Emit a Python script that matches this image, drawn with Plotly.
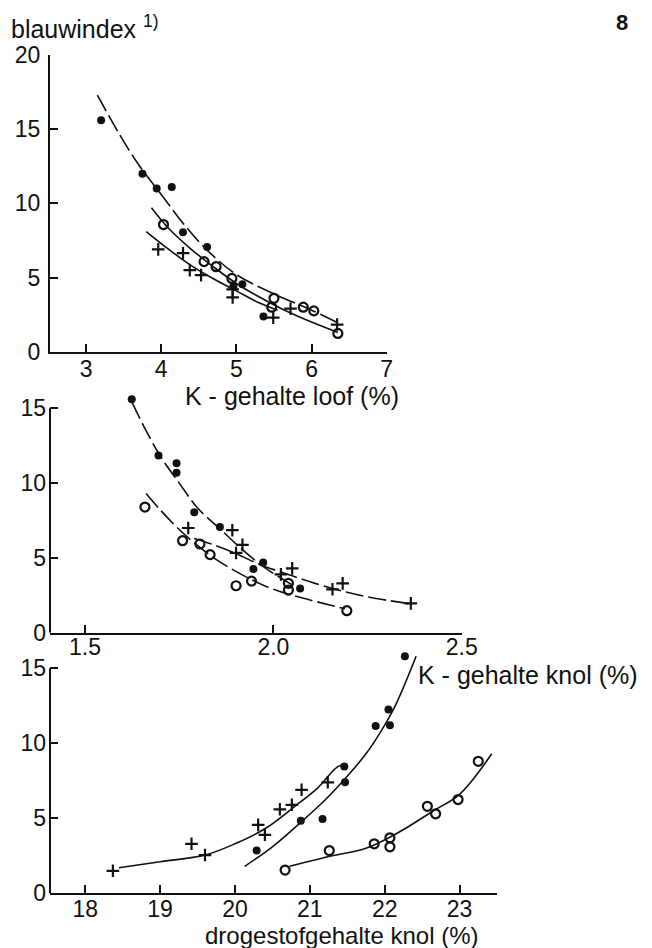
import plotly.graph_objects as go

W, H = 652, 948

# ---------------- Panel 1: K-gehalte loof (%) ----------------
p1_dot_x = [3.20, 3.75, 3.94, 4.14, 4.29, 4.61, 4.96, 5.08, 5.36]
p1_dot_y = [15.6, 12.0, 11.0, 11.1, 8.05, 7.05, 4.4, 4.55, 2.37]
p1_open_x = [4.03, 4.57, 4.73, 4.94, 5.50, 5.47, 5.89, 6.03, 6.35]
p1_open_y = [8.57, 6.07, 5.73, 4.94, 3.6, 3.0, 3.0, 2.75, 1.23]
p1_plus_x = [3.96, 4.29, 4.38, 4.53, 4.95, 4.95, 5.49, 5.72, 6.34]
p1_plus_y = [6.9, 6.64, 5.5, 5.16, 4.2, 3.66, 2.3, 2.9, 1.83]
p1_dot_cx = [3.15, 3.45, 3.70, 4.00, 4.30, 4.60, 5.00, 5.50, 6.00, 6.35]
p1_dot_cy = [17.3, 14.6, 12.6, 10.6, 8.6, 6.9, 5.2, 3.9, 2.8, 1.95]
p1_open_cx = [3.87, 4.10, 4.40, 4.70, 5.00, 5.30, 5.60, 6.00, 6.35]
p1_open_cy = [9.7, 8.3, 6.9, 5.7, 4.6, 3.7, 2.9, 2.0, 1.3]
p1_plus_cx = [3.80, 4.10, 4.40, 4.70, 5.00, 5.30, 5.55]
p1_plus_cy = [8.1, 6.9, 5.8, 4.9, 4.1, 3.3, 2.8]

# ---------------- Panel 2: K-gehalte knol (%) ----------------
p2_dot_x = [1.624, 1.695, 1.743, 1.743, 1.790, 1.858, 1.973, 1.947, 2.071]
p2_dot_y = [15.6, 11.85, 11.33, 10.7, 8.05, 7.07, 4.7, 4.25, 2.95]
p2_open_x = [1.659, 1.759, 1.805, 1.832, 1.901, 1.942, 2.040, 2.040, 2.195]
p2_open_y = [8.4, 6.15, 5.93, 5.22, 3.14, 3.45, 3.3, 2.85, 1.47]
p2_plus_x = [1.774, 1.891, 1.918, 1.901, 2.020, 2.050, 2.184, 2.157, 2.365]
p2_plus_y = [7.0, 6.85, 5.87, 5.33, 3.9, 4.3, 3.3, 2.9, 1.96]
p2_dot_cx = [1.625, 1.660, 1.700, 1.750, 1.800, 1.860, 1.920, 1.980, 2.050]
p2_dot_cy = [15.4, 13.6, 11.8, 10.0, 8.3, 6.9, 5.5, 4.3, 3.2]
p2_open_cx = [1.662, 1.700, 1.750, 1.800, 1.860, 1.930, 2.000, 2.080, 2.190]
p2_open_cy = [9.3, 8.2, 6.9, 5.8, 4.7, 3.7, 2.9, 2.3, 1.6]
p2_plus_cx = [1.790, 1.850, 1.900, 1.960, 2.050, 2.150, 2.250, 2.370]
p2_plus_cy = [6.3, 5.8, 5.3, 4.6, 3.8, 3.0, 2.4, 1.9]

# ---------------- Panel 3: drogestofgehalte knol (%) ----------------
p3_dot_x = [22.27, 22.05, 22.07, 21.88, 21.46, 21.47, 20.88, 21.17, 20.29]
p3_dot_y = [15.8, 12.25, 11.2, 11.15, 8.46, 7.4, 4.84, 4.95, 2.85]
p3_plus_x = [18.37, 19.42, 19.60, 20.31, 20.40, 20.60, 20.76, 20.89, 21.24]
p3_plus_y = [1.5, 3.3, 2.55, 4.56, 3.9, 5.6, 5.9, 6.9, 7.4]
p3_open_x = [20.67, 21.26, 21.86, 22.07, 22.07, 22.57, 22.68, 22.98, 23.25]
p3_open_y = [1.55, 2.85, 3.3, 3.7, 3.1, 5.8, 5.3, 6.25, 8.8]
p3_dot_cx = [20.13, 20.50, 20.85, 21.20, 21.50, 21.75, 21.95, 22.15, 22.42]
p3_dot_cy = [1.8, 3.1, 4.6, 6.2, 7.8, 9.3, 10.8, 12.6, 15.8]
p3_plus_cx = [18.45, 19.00, 19.60, 20.00, 20.40, 20.80, 21.10, 21.40, 21.50]
p3_plus_cy = [1.7, 2.1, 2.55, 3.3, 4.3, 5.8, 7.0, 8.5, 8.3]
p3_open_cx = [20.73, 21.30, 21.75, 22.20, 22.65, 23.00, 23.43]
p3_open_cy = [1.8, 2.5, 3.0, 4.1, 5.5, 6.6, 9.3]

FONT = "Liberation Sans"
BLACK = "#111111"

fig = go.Figure()


def add_panel(n, dots, opens, pluses, curves):
    xa = "x" if n == 1 else f"x{n}"
    ya = "y" if n == 1 else f"y{n}"
    for (cx, cy, dash) in curves:
        fig.add_trace(go.Scatter(x=cx, y=cy, mode="lines", xaxis=xa, yaxis=ya,
                                 line=dict(color=BLACK, width=1.6, shape="spline", dash=dash),
                                 cliponaxis=False, showlegend=False, hoverinfo="skip"))
    fig.add_trace(go.Scatter(x=dots[0], y=dots[1], mode="markers", xaxis=xa, yaxis=ya,
                             marker=dict(symbol="circle", size=8, color=BLACK),
                             cliponaxis=False, showlegend=False))
    fig.add_trace(go.Scatter(x=opens[0], y=opens[1], mode="markers", xaxis=xa, yaxis=ya,
                             marker=dict(symbol="circle-open", size=9, color=BLACK,
                                         line=dict(width=2.2, color=BLACK)),
                             cliponaxis=False, showlegend=False))
    fig.add_trace(go.Scatter(x=pluses[0], y=pluses[1], mode="markers", xaxis=xa, yaxis=ya,
                             marker=dict(symbol="cross-thin", size=9, color=BLACK,
                                         line=dict(width=2.2, color=BLACK)),
                             cliponaxis=False, showlegend=False))


DASH = "18px,5px"
add_panel(1, (p1_dot_x, p1_dot_y), (p1_open_x, p1_open_y), (p1_plus_x, p1_plus_y),
          [(p1_dot_cx, p1_dot_cy, DASH), (p1_open_cx, p1_open_cy, "solid"),
           (p1_plus_cx, p1_plus_cy, "solid")])
add_panel(2, (p2_dot_x, p2_dot_y), (p2_open_x, p2_open_y), (p2_plus_x, p2_plus_y),
          [(p2_dot_cx, p2_dot_cy, DASH), (p2_open_cx, p2_open_cy, DASH),
           (p2_plus_cx, p2_plus_cy, DASH)])
add_panel(3, (p3_dot_x, p3_dot_y), (p3_open_x, p3_open_y), (p3_plus_x, p3_plus_y),
          [(p3_dot_cx, p3_dot_cy, "solid"), (p3_open_cx, p3_open_cy, "solid"),
           (p3_plus_cx, p3_plus_cy, "solid")])


def px(x):
    return x / W


def py(y):
    return 1 - y / H


axis_common = dict(linecolor=BLACK, linewidth=2, ticks="inside",
                   ticklen=8, tickwidth=2, tickcolor=BLACK, showgrid=False,
                   zeroline=False, tickfont=dict(family=FONT, size=23, color=BLACK),
                   automargin=False, fixedrange=True)

p1_xticks = [3, 4, 5, 6, 7]
p2_xticks = [1.5, 2.0, 2.5]
p2_xlabels = ["1.5", "2.0", "2.5"]
p3_xticks = [18, 19, 20, 21, 22, 23]
p1_yticks = [0, 5, 10, 15, 20]
p23_yticks = [0, 5, 10, 15]

# panels 2 and 3: axis scale ~14.98 px/unit; the y range is extended to 17 so points
# above 15 stay visible, while the drawn axis line stops at 15 as in the original.
P2_TOP = 632.7 - 17 * (632.7 - 408.3) / 15
P3_TOP = 893.3 - 17 * (893.3 - 668.3) / 15

fig.update_layout(
    width=W, height=H,
    margin=dict(l=0, r=0, t=0, b=0),
    paper_bgcolor="white", plot_bgcolor="rgba(0,0,0,0)",
    font=dict(family=FONT, color=BLACK),
    xaxis=dict(domain=[px(50), px(386.7)], range=[2.52, 7], tickvals=p1_xticks,
               anchor="y", showline=True, ticklabelstandoff=-4, **axis_common),
    yaxis=dict(domain=[py(351.7), py(55)], range=[0, 20], tickvals=p1_yticks,
               anchor="x", showline=True, ticklabelstandoff=3, **axis_common),
    xaxis2=dict(domain=[px(50), px(461.7)], range=[1.407, 2.5], tickvals=p2_xticks,
                ticktext=p2_xlabels, anchor="y2", showline=True, ticklabelstandoff=-7,
                **axis_common),
    yaxis2=dict(domain=[py(632.7), py(P2_TOP)], range=[0, 17], tickvals=p23_yticks,
                anchor="x2", showline=False, ticklabelstandoff=3, **axis_common),
    xaxis3=dict(domain=[px(50), px(497)], range=[17.53, 23.5], tickvals=p3_xticks,
                anchor="y3", showline=True, ticklabelstandoff=-6, **axis_common),
    yaxis3=dict(domain=[py(893.3), py(P3_TOP)], range=[0, 17], tickvals=p23_yticks,
                anchor="x3", showline=False, ticklabelstandoff=3, **axis_common),
)

# vertical axis lines for panels 2 and 3, from 0 to 15
for n in (2, 3):
    fig.add_shape(type="line", xref=f"x{n} domain", yref=f"y{n}",
                  x0=0, x1=0, y0=0, y1=15, line=dict(color=BLACK, width=2))

annots = [
    dict(text="blauwindex <sup>1)</sup>", x=px(9), y=py(27), xanchor="left", size=25),
    dict(text="<b>8</b>", x=px(622), y=py(23), xanchor="center", size=22),
    dict(text="K - gehalte loof (%)", x=px(292), y=py(396), xanchor="center", size=25),
    dict(text="K - gehalte knol (%)", x=px(416), y=py(675), xanchor="left", size=25),
    dict(text="drogestofgehalte knol (%)", x=px(342), y=py(935), xanchor="center", size=24),
]
for a in annots:
    fig.add_annotation(text=a["text"], x=a["x"], y=a["y"], xref="paper", yref="paper",
                       xanchor=a["xanchor"], yanchor="middle", showarrow=False,
                       font=dict(family=FONT, size=a["size"], color=BLACK))

fig.write_html("out.html")
